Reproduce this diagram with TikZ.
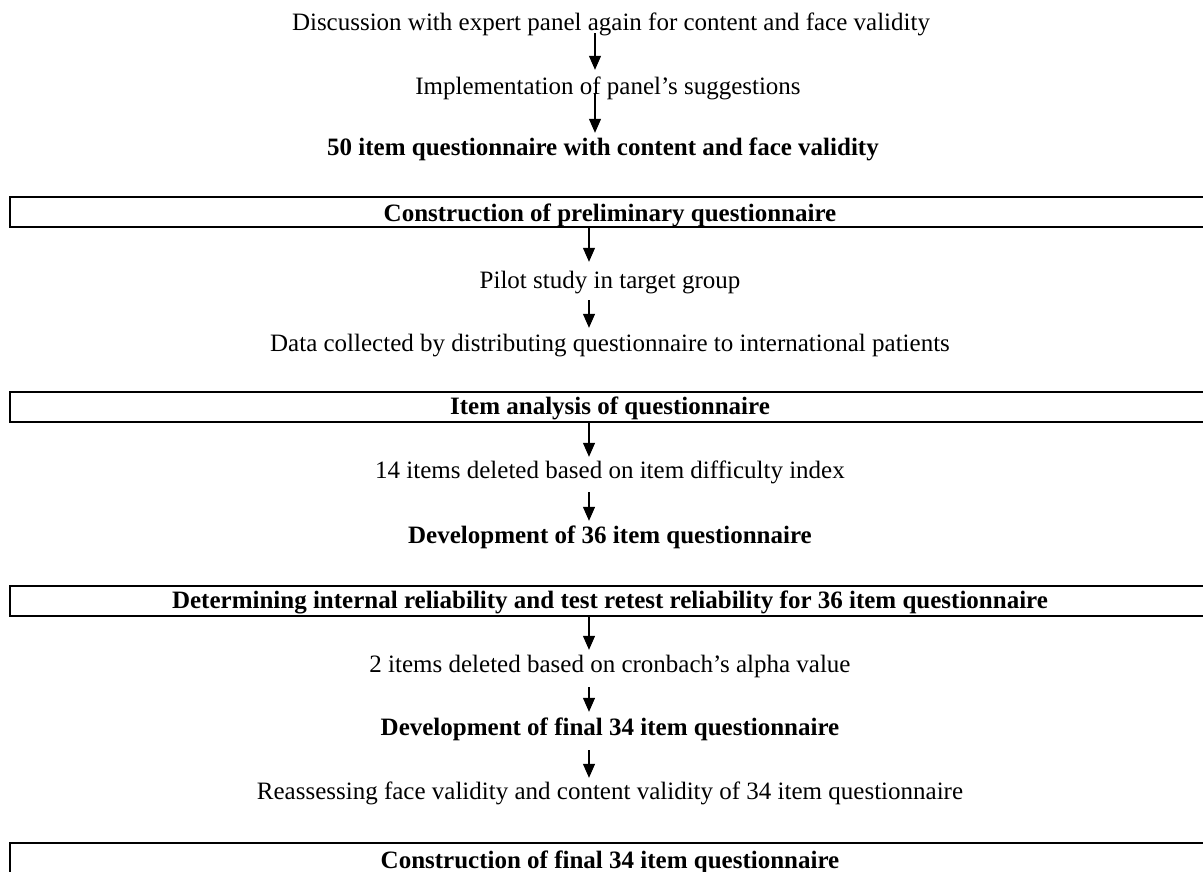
\documentclass[tikz,border=0pt]{standalone}
\usepackage{fontspec}
\setmainfont{Liberation Serif}
\usetikzlibrary{arrows.meta}
\begin{document}
\begin{tikzpicture}[x=1pt,y=1pt,
  txt/.style={inner sep=0pt, anchor=base, font=\fontsize{25}{30}\selectfont, text height=17pt, text depth=5pt},
  btxt/.style={txt, font=\fontsize{25}{30}\selectfont\bfseries},
  frame/.style={draw, line width=2pt, minimum width=1205pt, minimum height=30pt, inner sep=0pt},
  arr/.style={line width=1.2pt, -{Triangle[width=12pt,length=14pt]}}
]
\useasboundingbox (0,0) rectangle (1203,-871);
% first group
\node[txt] (l1) at (611,-30) {Discussion with expert panel again for content and face validity};
\node[txt] (l2) at (608,-94) {Implementation of panel’s suggestions};
\node[btxt] (l3) at (603,-155) {50 item questionnaire with content and face validity};
% box 1
\node[frame] (f1) at (612.5,-212) {};
\node[btxt] (t1) at (610,-221) {Construction of preliminary questionnaire};
\node[txt] (l5) at (610,-288) {Pilot study in target group};
\node[txt] (l6) at (610,-351) {Data collected by distributing questionnaire to international patients};
% box 2
\node[frame] (f2) at (612.5,-407) {};
\node[btxt] (t2) at (610,-414) {Item analysis of questionnaire};
\node[txt] (l8) at (610,-478) {14 items deleted based on item difficulty index};
\node[btxt] (l9) at (610,-543) {Development of 36 item questionnaire};
% box 3
\node[frame] (f3) at (612.5,-600.5) {};
\node[btxt] (t3) at (610,-608) {Determining internal reliability and test retest reliability for 36 item questionnaire};
\node[txt] (l11) at (610,-672) {2 items deleted based on cronbach’s alpha value};
\node[btxt] (l12) at (610,-735) {Development of final 34 item questionnaire};
\node[txt] (l13) at (610,-799) {Reassessing face validity and content validity of 34 item questionnaire};
% box 4
\node[frame, line width=1.2pt] (f4) at (612.5,-858) {};
\node[btxt] (t4) at (610,-868) {Construction of final 34 item questionnaire};
% arrows
\coordinate (ax) at (595,0);
\coordinate (bx) at (589,0);
\draw[arr, shorten <=-2pt, shorten >=7pt] (l1.south -| ax) -- (l2.north -| ax);
\draw[arr, shorten <=-6pt, shorten >=5pt] (l2.south -| ax) -- (l3.north -| ax);
\draw[arr, shorten >=9pt] (f1.south -| bx) -- (l5.north -| bx);
\draw[arr, shorten <=7pt, shorten >=6pt] (l5.south -| bx) -- (l6.north -| bx);
\draw[arr, shorten >=4pt] (f2.south -| bx) -- (l8.north -| bx);
\draw[arr, shorten <=9pt, shorten >=5pt] (l8.south -| bx) -- (l9.north -| bx);
\draw[arr, shorten >=5pt] (f3.south -| bx) -- (l11.north -| bx);
\draw[arr, shorten <=10pt, shorten >=6pt] (l11.south -| bx) -- (l12.north -| bx);
\draw[arr, shorten <=10pt, shorten >=4pt] (l12.south -| bx) -- (l13.north -| bx);
\end{tikzpicture}
\end{document}
